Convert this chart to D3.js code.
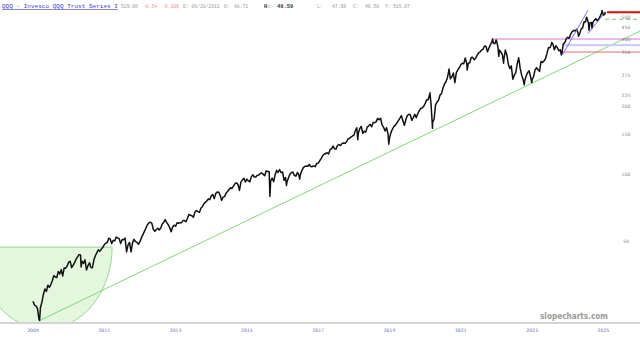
<!DOCTYPE html>
<html>
<head>
<meta charset="utf-8">
<script src="https://cdn.jsdelivr.net/npm/d3@7"></script>
<style>
body { margin: 0; background: #fff; }
svg { display: block; }
</style>
</head>
<body>
<svg id="chart" width="640" height="338"></svg>
<script>
// QQQ adjusted prices, two readings a month (1st and 16th)
var p2009 = [27.1, 26.1, 25.9, 25.2, 22.6, 25.4, 26.9, 29.1, 30.8, 30.0, 32.0, 31.3, 32.2, 33.5, 35.3, 34.8, 34.6, 36.8, 35.9, 37.5, 35.2, 38.2, 38.1, 39.0];
var p2010 = [40.5, 40.9, 38.3, 39.2, 40.3, 41.8, 42.8, 43.8, 43.6, 40.9, 40.0, 41.5, 37.4, 39.1, 40.3, 38.4, 38.3, 41.5, 43.3, 44.7, 46.0, 45.3, 46.3, 47.2];
var p2011 = [48.5, 49.3, 49.6, 51.8, 51.3, 49.1, 50.7, 50.4, 52.4, 52.0, 51.6, 49.1, 51.1, 51.0, 51.9, 45.0, 48.4, 49.6, 45.0, 49.4, 51.2, 50.1, 49.6, 48.7];
var p2012 = [50.0, 52.1, 53.8, 55.6, 57.4, 59.5, 60.6, 61.1, 60.4, 56.8, 55.6, 56.5, 57.4, 56.4, 57.5, 59.9, 61.0, 62.7, 61.0, 59.6, 57.9, 55.4, 58.2, 59.2];
var p2013 = [58.6, 60.7, 60.4, 60.8, 60.8, 62.1, 62.1, 61.4, 63.6, 66.2, 65.6, 65.3, 64.2, 67.7, 68.8, 68.1, 67.5, 70.5, 71.6, 73.7, 74.9, 75.9, 77.5, 77.0];
var p2014 = [80.1, 81.2, 77.8, 81.9, 83.3, 83.1, 80.5, 76.4, 79.2, 79.4, 82.4, 83.7, 85.4, 87.0, 86.3, 88.7, 90.7, 91.5, 89.9, 84.6, 92.4, 94.3, 95.9, 92.3];
var p2015 = [95.0, 93.4, 92.5, 97.5, 99.4, 97.1, 97.2, 98.9, 99.1, 100.7, 101.2, 99.8, 98.3, 103.5, 102.7, 102.6, 93.4, 96.0, 92.5, 99.5, 104.0, 101.7, 104.9, 101.5];
var p2016 = [102.3, 93.9, 96.7, 92.5, 96.3, 100.0, 101.8, 102.1, 98.6, 98.0, 101.8, 99.0, 99.5, 103.7, 107.0, 108.3, 108.8, 108.4, 110.4, 108.2, 107.9, 109.0, 107.9, 111.6];
var p2017 = [111.9, 114.7, 117.3, 120.8, 122.7, 123.6, 124.5, 123.1, 128.8, 129.7, 133.5, 129.5, 129.3, 134.4, 135.4, 134.0, 136.8, 137.7, 137.1, 139.1, 143.4, 144.3, 146.2, 147.6];
var p2018 = [149.2, 156.3, 161.0, 152.0, 159.6, 163.4, 152.0, 155.3, 153.8, 162.0, 164.2, 166.7, 162.5, 170.1, 169.6, 171.0, 177.2, 174.8, 177.4, 165.8, 161.7, 155.8, 161.0, 151.1];
var p2019 = [144.5, 153.6, 158.9, 163.2, 165.4, 169.4, 173.3, 177.6, 182.4, 172.8, 165.1, 174.7, 182.4, 184.8, 183.8, 173.8, 178.6, 184.8, 178.6, 185.8, 191.5, 196.3, 197.0, 200.6];
var p2020 = [206.2, 214.4, 214.4, 226.5, 203.7, 169.8, 175.6, 203.7, 209.5, 213.4, 225.0, 228.4, 241.5, 252.2, 258.0, 269.2, 291.0, 265.8, 271.6, 282.3, 255.6, 283.2, 291.5, 297.8];
var p2021 = [307.4, 312.1, 310.2, 329.3, 311.6, 311.6, 313.6, 331.2, 331.7, 323.4, 328.8, 339.1, 347.4, 350.4, 357.3, 360.6, 372.4, 370.4, 350.8, 365.5, 378.3, 389.6, 382.2, 382.2];
var p2022 = [394.0, 369.4, 357.9, 349.7, 340.4, 325.1, 357.1, 339.8, 308.9, 295.5, 303.4, 266.0, 276.1, 283.7, 310.7, 330.0, 295.2, 275.8, 263.3, 261.0, 273.8, 283.7, 289.0, 270.9];
var p2023 = [263.6, 272.3, 291.6, 298.0, 291.8, 287.1, 317.7, 314.8, 319.4, 326.7, 344.9, 366.3, 365.7, 379.2, 379.9, 358.4, 373.8, 366.3, 354.7, 358.4, 343.5, 381.2, 384.9, 401.0];
var p2024 = [407.5, 403.0, 421.7, 431.8, 436.8, 434.8, 441.8, 422.9, 422.5, 442.8, 448.5, 477.6, 476.7, 495.5, 467.8, 472.6, 473.9, 475.6, 485.7, 492.5, 481.5, 493.5, 507.1, 527.4];
var p2025 = [511.2, 516.1];
var priceYears = [2009, 2010, 2011, 2012, 2013, 2014, 2015, 2016, 2017, 2018, 2019, 2020, 2021, 2022, 2023, 2024, 2025];
var priceRows = [p2009, p2010, p2011, p2012, p2013, p2014, p2015, p2016, p2017, p2018, p2019, p2020, p2021, p2022, p2023, p2024, p2025];

// intraday extremes between the readings [date, price]
var extremes = [[2009.185, 22.3], [2010.35, 38.6], [2015.646, 79.6], [2016.11, 89.0], [2016.48, 95.0],
  [2018.11, 142.5], [2018.98, 136.0], [2020.135, 230.4], [2020.207, 160.0], [2020.67, 294.4],
  [2021.18, 291.0], [2021.89, 400.5], [2021.99, 396.0], [2022.065, 335.0], [2022.2, 312.0],
  [2022.46, 265.0], [2022.78, 250.0], [2022.99, 256.0], [2023.55, 386.0], [2023.82, 340.0],
  [2024.30, 412.0], [2024.525, 500.5], [2024.595, 438.0], [2024.68, 446.0], [2024.96, 536.5],
  [2025.05, 529.06]];

var yTicks = [500, 450, 400, 350, 275, 225, 200, 150, 100, 50];
var xTickYears = [2009, 2011, 2013, 2015, 2017, 2019, 2021, 2023, 2025];
var xTickLabels = ["2009", "2011", "2013", "2015", "2017", "2019", "2021", "2023", "2025"];

// drawn studies
var trendStart = [2009.17, 22.2], trendEnd = [2026.03, 434];
var arcCenter = [2009.34, 47.3], arcHalfWidthYears = 1.88, arcBottomPrice = 20.4;
var channelA = [[2023.85, 340], [2024.57, 538]];
var channelB = [[2024.57, 424], [2024.99, 512]];
var levelTop = 527, levelTopFrom = 2025.1;
var levelDash = 490, levelDashFrom = 2025.05;
var levelPeak = 400, levelPeakFrom = 2021.88;
var levelBand = 376, levelBandFrom = 2023.85;
var levelLow = 350, levelLowFrom = 2023.8;

var header = [
  {t: "529.06", x0: 121, c: "#9a9a9a"},
  {t: "-0.54", x0: 143, c: "#f08c8c"},
  {t: "-0.10%", x0: 162, c: "#f08c8c"},
  {t: "D: 06/28/2011", x0: 183, c: "#9a9a9a"},
  {t: "O:", x0: 224, c: "#9a9a9a"},
  {t: "48.71", x0: 234, c: "#9a9a9a"},
  {t: "H:", x0: 264, c: "#333", b: true},
  {t: "49.59", x0: 277, c: "#333", b: true},
  {t: "L:", x0: 317, c: "#9a9a9a"},
  {t: "47.99", x0: 332, c: "#9a9a9a"},
  {t: "C:", x0: 353, c: "#9a9a9a"},
  {t: "49.58", x0: 365, c: "#9a9a9a"},
  {t: "Y:", x0: 385, c: "#9a9a9a"},
  {t: "516.07", x0: 393, c: "#9a9a9a"}
];

var W = 640, axisY = 323;
var svg = d3.select("#chart");

var x = d3.scaleLinear().domain([2009, 2025]).range([33, 603.4]);
var y = d3.scaleLog().domain([50, 500]).range([241.7, 17.3]);

var points = [];
priceRows.forEach(function(row, r) {
  row.forEach(function(v, i) {
    points.push({t: priceYears[r] + i / 24, v: v});
  });
});
extremes.forEach(function(e) { points.push({t: e[0], v: e[1]}); });
points.sort(function(a, b) { return a.t - b.t; });

svg.append("defs").append("clipPath").attr("id", "plot")
  .append("rect").attr("x", 0).attr("y", 0).attr("width", W).attr("height", axisY - 1);

var g = svg.append("g").attr("clip-path", "url(#plot)");

// green arc study
var cx = x(arcCenter[0]), cy = y(arcCenter[1]);
var rx = x(arcCenter[0] + arcHalfWidthYears) - cx;
var ry = y(arcBottomPrice) - cy;
g.append("path")
  .attr("d", "M" + (cx - rx) + "," + cy + " A" + rx + "," + ry + " 0 0 0 " + (cx + rx) + "," + cy + " Z")
  .attr("fill", "#e4f6de")
  .attr("stroke", "#8fd38a")
  .attr("stroke-width", 0.9);

// long trendline
g.append("line")
  .attr("x1", x(trendStart[0])).attr("y1", y(trendStart[1]))
  .attr("x2", x(trendEnd[0])).attr("y2", y(trendEnd[1]))
  .attr("stroke", "#74d46c").attr("stroke-width", 0.9);

// horizontal levels
function level(p, from, color, w, dash) {
  var l = g.append("line")
    .attr("x1", x(from)).attr("x2", W)
    .attr("y1", y(p)).attr("y2", y(p))
    .attr("stroke", color).attr("stroke-width", w);
  if (dash) l.attr("stroke-dasharray", dash);
}
level(levelBand, levelBandFrom, "#cfcff4", 2.2);
level(levelPeak, levelPeakFrom, "#d27ad6", 1);
level(levelLow, levelLowFrom, "#e26d6d", 1);
level(levelDash, levelDashFrom, "#7acb6e", 1, "4,3");

// price
g.append("path")
  .datum(points)
  .attr("fill", "none")
  .attr("stroke", "#111")
  .attr("stroke-width", 1.5)
  .attr("stroke-linejoin", "round")
  .attr("d", d3.line().x(function(d) { return x(d.t); }).y(function(d) { return y(d.v); }));

// channel lines
[channelA, channelB].forEach(function(c) {
  g.append("line")
    .attr("x1", x(c[0][0])).attr("y1", y(c[0][1]))
    .attr("x2", x(c[1][0])).attr("y2", y(c[1][1]))
    .attr("stroke", "#7a70ee").attr("stroke-width", 1);
});

level(levelTop, levelTopFrom, "#d01010", 2);

// x axis
svg.append("line")
  .attr("x1", 0).attr("x2", W).attr("y1", axisY).attr("y2", axisY)
  .attr("stroke", "#c4c4c4").attr("stroke-width", 1.6);

svg.selectAll(".xl")
  .data(xTickYears)
  .enter().append("text")
  .attr("x", function(d) { return x(d); })
  .attr("y", 331.5)
  .attr("text-anchor", "middle")
  .attr("font-family", "DejaVu Sans, sans-serif")
  .attr("font-size", 4.6)
  .attr("fill", "#6d6db4")
  .text(function(d, i) { return xTickLabels[i]; });

// y labels
svg.selectAll(".yl")
  .data(yTicks)
  .enter().append("text")
  .attr("x", 626)
  .attr("y", function(d) { return y(d) + 1.7; })
  .attr("text-anchor", "middle")
  .attr("font-family", "DejaVu Sans, sans-serif")
  .attr("font-size", 4.6)
  .attr("fill", "#8a8a8a")
  .text(function(d) { return d; });

// watermark
svg.append("text")
  .attr("x", 608).attr("y", 319)
  .attr("text-anchor", "end")
  .attr("font-family", "DejaVu Sans, sans-serif")
  .attr("font-weight", "bold")
  .attr("font-size", 9)
  .attr("textLength", 68)
  .attr("lengthAdjust", "spacingAndGlyphs")
  .attr("fill", "#9a9a9a")
  .text("slopecharts.com");

// header line
svg.append("text")
  .attr("x", 2).attr("y", 8)
  .attr("font-family", "Liberation Mono, monospace")
  .attr("font-size", 6.2)
  .attr("textLength", 116)
  .attr("lengthAdjust", "spacingAndGlyphs")
  .attr("fill", "#3c3cc8")
  .attr("text-decoration", "underline")
  .text("QQQ - Invesco QQQ Trust Series I");

header.forEach(function(h) {
  svg.append("text")
    .attr("x", h.x0).attr("y", 7.8)
    .attr("font-family", "Liberation Mono, monospace")
    .attr("font-size", h.b ? 5.4 : 4.7)
    .attr("font-weight", h.b ? "bold" : "normal")
    .attr("fill", h.c)
    .text(h.t);
});
</script>
</body>
</html>
